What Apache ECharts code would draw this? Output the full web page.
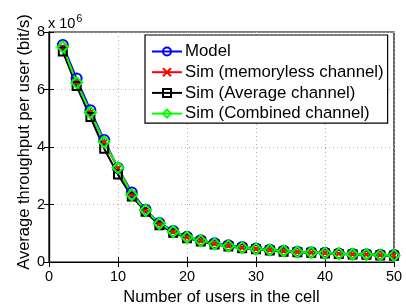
<!DOCTYPE html>
<html><head><meta charset="utf-8">
<script src="https://cdn.jsdelivr.net/npm/echarts@6/dist/echarts.min.js"></script>
<style>html,body{margin:0;padding:0;background:#fff}#c{width:406px;height:305px}</style>
</head><body><div id="c"></div>
<script>
const users = [2,4,6,8,10,12,14,16,18,20,22,24,26,28,30,32,34,36,38,40,42,44,46,48,50];
const modelVals = [7.55,6.38,5.28,4.24,3.27,2.42,1.82,1.36,1.08,0.88,0.76,0.65,0.58,0.52,0.47,0.43,0.39,0.36,0.34,0.32,0.30,0.28,0.27,0.25,0.24];
const memorylessVals = [7.46,6.26,5.20,4.16,3.25,2.36,1.80,1.33,1.06,0.86,0.74,0.63,0.56,0.50,0.45,0.42,0.38,0.35,0.33,0.31,0.29,0.27,0.26,0.24,0.23];
const averageVals = [7.32,6.12,5.04,3.94,3.04,2.28,1.75,1.28,1.02,0.83,0.71,0.61,0.54,0.48,0.44,0.40,0.36,0.34,0.32,0.30,0.28,0.26,0.25,0.23,0.22];
const combinedVals = [7.48,6.24,5.20,4.18,3.28,2.34,1.80,1.34,1.06,0.86,0.74,0.63,0.56,0.50,0.45,0.42,0.38,0.35,0.33,0.31,0.29,0.27,0.26,0.24,0.23];
const seriesNames = ['Model','Sim (memoryless channel)','Sim (Average channel)','Sim (Combined channel)'];
const xTicks = [0,10,20,30,40,50];
const yTicks = [0,2,4,6,8];
const xTitle = 'Number of users in the cell';
const yTitle = 'Average throughput per user (bit/s)';

const FONT = 'Liberation Sans';
const chart = echarts.init(document.getElementById('c'));
function pairs(v){ return users.map((u,i)=>[u,v[i]]); }
function mk(name, vals, color, symbol, size){
  return {
    name, type:'line', data: pairs(vals), symbol, symbolSize: size,
    lineStyle:{color, width:2}, itemStyle:{color:'rgba(0,0,0,0)', borderColor:color, borderWidth:2},
    emphasis:{disabled:true}, animation:false
  };
}
const gridSplit = {show:true, lineStyle:{color:'#b0b0b0', type:[1,3], width:1}};
const tick = {inside:true, length:5, lineStyle:{color:'#000'}};
chart.setOption({
  animation:false,
  textStyle:{fontFamily:FONT},
  grid:{left:49, top:32, right:12, bottom:43, show:true, borderColor:'#000', borderWidth:1.2,
    containLabel:false, outerBoundsMode:'none'},
  xAxis:[{type:'value', min:0, max:50, interval:10, name:xTitle, nameLocation:'middle', nameGap:21,
    nameTextStyle:{fontSize:16.5, color:'#000', fontFamily:FONT},
    axisLine:{show:true, lineStyle:{color:'#000', width:1.2}}, axisTick:tick,
    axisLabel:{fontSize:14.5, color:'#000', margin:7, fontFamily:FONT, formatter:v=>xTicks.includes(v)?String(v):''}, splitLine:gridSplit},
   {type:'value', position:'top', min:0, max:50, interval:10, axisLine:{show:true, lineStyle:{color:'#000', width:1.2}},
    axisTick:tick, axisLabel:{show:false}, splitLine:{show:false}}],
  yAxis:[{type:'value', min:0, max:8, interval:2,
    axisLine:{show:true, lineStyle:{color:'#000', width:1.2}}, axisTick:tick,
    axisLabel:{fontSize:14.5, color:'#000', margin:4, fontFamily:FONT, formatter:v=>yTicks.includes(v)?String(v):''}, splitLine:gridSplit},
   {type:'value', position:'right', min:0, max:8, interval:2, axisLine:{show:true, lineStyle:{color:'#000', width:1.2}},
    axisTick:tick, axisLabel:{show:false}, splitLine:{show:false}}],
  legend:{left:145, top:35, orient:'vertical', width:241, itemWidth:30, itemHeight:10, itemGap:3.7,
    padding:[8,4,1,6], backgroundColor:'#fff', borderColor:'#000', borderWidth:1.2,
    textStyle:{fontSize:16.8, lineHeight:16, color:'#000', fontFamily:FONT, padding:[0,0,0,-2]}, data:seriesNames},
  graphic:[
    {type:'text', left:48, top:14, style:{text:'x 10{s|6}', fontSize:14.5, fontFamily:FONT, fill:'#000',
      rich:{s:{fontSize:10.5, verticalAlign:'top', padding:[0,0,9,1], fontFamily:FONT}}}},
    {type:'text', x:24, y:142, rotation:Math.PI/2, style:{text:yTitle, fontSize:16.5, fontFamily:FONT, fill:'#000',
      align:'center', verticalAlign:'middle'}}
  ],
  series:[
    mk(seriesNames[0], modelVals, '#0000ff', 'circle', 10),
    mk(seriesNames[1], memorylessVals, '#ff0000', 'path://M0,0L10,10M10,0L0,10', 6),
    mk(seriesNames[2], averageVals, '#000000', 'rect', 8),
    mk(seriesNames[3], combinedVals, '#00ff00', 'diamond', 11)
  ]
});
</script></body></html>
